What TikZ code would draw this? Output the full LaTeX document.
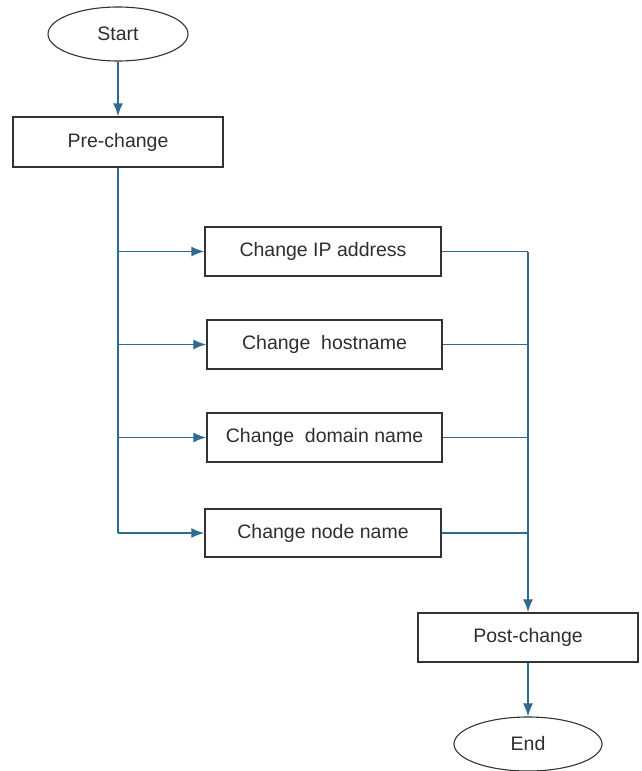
\documentclass[tikz,border=0pt]{standalone}
\usepackage{fontspec}
\setmainfont{Liberation Sans}
\usetikzlibrary{shapes.geometric,arrows.meta}
\definecolor{flowblue}{HTML}{2F6B90}
\definecolor{boxline}{HTML}{333333}
\definecolor{txt}{HTML}{2E2E2E}
\tikzset{
  stepbox/.style={draw=boxline, line width=1.5pt, rectangle, fill=white,
    font=\fontsize{19.5}{21}\selectfont, text=txt, inner sep=0pt},
  terminal/.style={draw=boxline, line width=1.1pt, ellipse, inner sep=0pt,
    font=\fontsize{19.5}{21}\selectfont, text=txt},
  flow/.style={draw=flowblue, line width=1.5pt},
  flowarrow/.style={flow, -{Latex[length=13pt,width=10pt]}}
}
\begin{document}
\begin{tikzpicture}[x=1pt,y=-1pt]
\useasboundingbox[fill=white] (0,0) rectangle (642,771);

% terminals and process boxes
\node[terminal, minimum width=140pt, minimum height=54pt] (start) at (118,34) {Start};
\node[stepbox, minimum width=210pt, minimum height=50pt] (pre) at (118,142) {Pre-change};
\node[stepbox, minimum width=236pt, minimum height=49pt] (ip) at (323,251.5) {Change IP address};
\node[stepbox, minimum width=235pt, minimum height=49pt] (host) at (324.5,344.5) {Change\ \ hostname};
\node[stepbox, minimum width=235pt, minimum height=49pt] (dom) at (324.5,437.5) {Change\ \ domain name};
\node[stepbox, minimum width=236pt, minimum height=48pt] (nname) at (323,533) {Change node name};
\node[stepbox, minimum width=220pt, minimum height=49pt] (post) at (528,637.5) {Post-change};
\node[terminal, minimum width=148pt, minimum height=54pt] (stop) at (528,744) {End};

% junction points on the fan-out trunk and the merge line
\coordinate (t1) at (118,251.5);
\coordinate (t2) at (118,344.5);
\coordinate (t3) at (118,437.5);
\coordinate (t4) at (118,533);
\coordinate (m1) at (528,251.5);
\coordinate (m2) at (528,344.5);
\coordinate (m3) at (528,437.5);
\coordinate (m4) at (528,533);

\draw[flowarrow] (start) -- (pre);
\draw[flow] (pre.south) -- (t4);
\draw[flowarrow] (t1) -- (ip.west);
\draw[flowarrow] (t2) -- (host.west);
\draw[flowarrow] (t3) -- (dom.west);
\draw[flowarrow] (t4) -- (nname.west);

\draw[flow] (ip.east) -- (m1);
\draw[flow] (host.east) -- (m2);
\draw[flow] (dom.east) -- (m3);
\draw[flow] (nname.east) -- (m4);
\draw[flowarrow] (m1) -- (post.north);
\draw[flowarrow] (post) -- (stop);
\end{tikzpicture}
\end{document}
